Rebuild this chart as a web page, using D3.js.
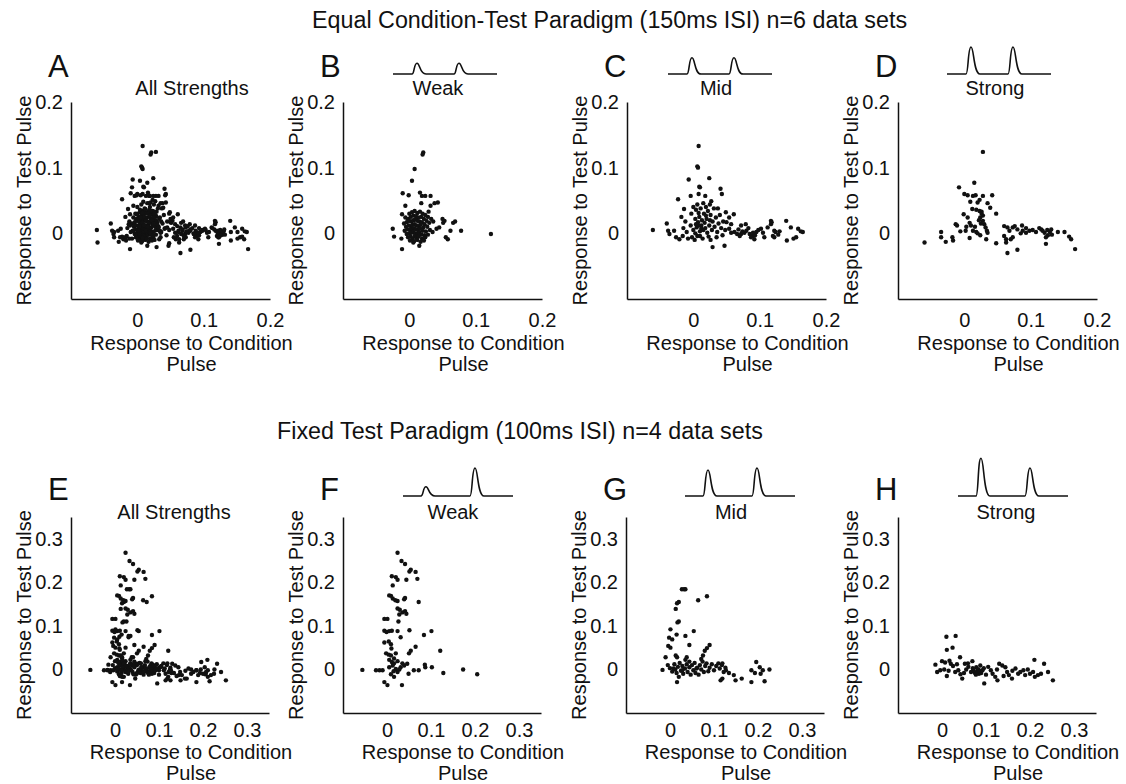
<!DOCTYPE html>
<html>
<head>
<meta charset="utf-8">
<script src="https://cdn.jsdelivr.net/npm/d3@7/dist/d3.min.js"></script>
<style>
    body { margin: 0; background: #fff; }
    svg { display: block; font-family: Arial, "Liberation Sans", sans-serif; }
</style>
</head>
<body>
<svg width="1126" height="784"></svg>
<script>
// Paradigma 1: condicao-teste iguais (150ms ISI) - [resposta condicao, resposta teste]
const weakEq = [
    [0.021,0.123],[0.020,0.120],[0.008,0.098],[0.004,0.080],[-0.010,0.061],[-0.001,0.058],[0.016,0.062],[0.019,0.057],
    [0.024,0.057],[0.032,0.057],[-0.006,0.042],[0.032,0.042],[0.038,0.046],[0.043,0.047],[0.018,0.046],[0.029,0.033],
    [-0.011,0.029],[0.050,0.022],[0.053,0.019],[0.051,0.016],[0.066,0.016],[0.069,0.018],[0.062,0.004],[0.078,0.004],
    [0.123,-0.001],[0.055,-0.006],[0.058,-0.009],[0.041,0.007],[0.045,0.009],[-0.025,0.007],[-0.023,-0.005],[-0.011,-0.024],
    [-0.012,-0.008],[0.015,-0.019],[0.006,-0.014],
    [0.000,0.030],[0.004,0.032],[0.008,0.034],[0.012,0.031],[0.016,0.033],[0.020,0.030],[0.024,0.028],[0.028,0.025],
    [0.033,0.022],[0.036,0.018],[-0.006,0.024],[-0.002,0.022],[0.002,0.025],[0.006,0.027],[0.010,0.026],[0.014,0.024],
    [0.018,0.025],[0.022,0.022],[0.026,0.019],[0.030,0.016],[-0.008,0.015],[-0.004,0.017],[0.000,0.019],[0.003,0.018],
    [0.006,0.020],[0.009,0.021],[0.012,0.019],[0.015,0.018],[0.019,0.017],[0.023,0.014],[-0.005,0.010],[-0.001,0.012],
    [0.002,0.011],[0.005,0.013],[0.008,0.014],[0.011,0.012],[0.014,0.011],[0.017,0.013],[0.021,0.009],[0.027,0.010],
    [-0.007,0.004],[-0.003,0.006],[0.001,0.005],[0.004,0.007],[0.007,0.008],[0.010,0.006],[0.013,0.005],[0.016,0.007],
    [0.020,0.004],[0.025,0.003],[0.031,0.005],[0.035,0.002],[-0.004,-0.001],[0.000,0.000],[0.003,0.001],[0.006,0.002],
    [0.009,0.000],[0.012,-0.001],[0.015,0.001],[0.018,-0.002],[0.023,-0.003],[0.028,-0.002],[-0.002,-0.006],[0.002,-0.005],
    [0.005,-0.008],[0.008,-0.004],[0.011,-0.007],[0.014,-0.005],[0.019,-0.008],[0.024,-0.006],[0.001,-0.011],[0.007,-0.012],
    [0.012,-0.010],[0.017,-0.013],[0.022,-0.011]
];

const midEq = [
    [0.008,0.133],[0.006,0.102],[0.007,0.100],[-0.007,0.082],[0.024,0.084],[0.041,0.068],[0.043,0.060],[0.010,0.070],
    [0.009,0.071],[-0.023,0.052],[0.008,0.060],[0.018,0.057],[-0.004,0.057],[-0.014,0.037],[0.027,0.049],[0.025,0.044],
    [0.037,0.038],[0.049,0.032],[0.061,0.029],[0.054,0.024],[0.050,0.017],[0.057,0.014],[0.072,0.012],[0.079,0.014],
    [0.117,0.019],[0.118,0.017],[0.117,0.014],[0.140,0.019],[0.147,0.009],[0.158,0.007],[0.162,0.003],[0.165,0.002],
    [0.155,-0.006],[0.151,-0.008],[0.141,-0.011],[0.122,0.004],[0.124,0.002],[0.120,-0.004],[0.122,-0.006],[0.107,-0.006],
    [0.089,-0.004],[0.092,-0.009],[0.102,0.007],[0.095,0.002],[0.098,0.005],[0.062,0.002],[0.066,-0.001],[0.072,-0.001],
    [0.077,0.001],[0.080,0.004],[0.085,-0.001],[0.090,0.001],[0.054,0.007],[0.057,0.001],[0.047,-0.019],[0.029,-0.021],
    [-0.061,0.005],[-0.040,0.015],[-0.038,0.004],[-0.036,-0.001],[-0.029,0.004],[-0.026,-0.006],[-0.021,-0.009],
    [0.068,0.006],[0.074,0.003],[0.083,0.008],[0.087,-0.006],[0.070,-0.004],[0.093,-0.003],[0.130,0.003],[0.128,-0.002],
    [0.112,0.009],[0.105,0.001],
    [-0.018,0.025],[-0.012,0.018],[-0.015,0.008],[-0.010,0.002],[-0.016,-0.004],[-0.008,-0.008],[-0.003,0.030],[0.000,0.040],
    [0.004,0.036],[0.003,0.022],[-0.004,0.012],[0.000,0.005],[-0.002,-0.006],[0.002,-0.010],[0.006,0.044],[0.008,0.031],
    [0.007,0.017],[0.005,0.009],[0.006,-0.004],[0.009,0.025],[0.011,0.038],[0.012,0.012],[0.010,0.003],[0.013,0.020],
    [0.014,-0.008],[0.016,0.030],[0.015,0.046],[0.018,0.008],[0.017,0.016],[0.019,0.040],[0.020,0.022],[0.021,0.001],
    [0.022,0.034],[0.024,0.012],[0.023,-0.005],[0.026,0.028],[0.028,0.005],[0.029,0.018],[0.031,0.038],[0.032,0.010],
    [0.034,0.024],[0.036,0.002],[0.038,0.015],[0.040,0.028],[0.042,0.008],[0.044,-0.003],[0.012,0.007],[0.008,0.012],
    [0.015,0.005],[0.004,0.014],[0.019,0.027],[0.025,0.020],[0.003,0.000],[0.010,-0.004],[0.026,-0.010],[0.035,-0.006],
    [0.045,0.018],[0.048,0.005]
];

const strongEq = [
    [0.028,0.124],[0.015,0.077],[-0.008,0.070],[0.000,0.060],[0.005,0.058],[0.013,0.057],[0.028,0.057],[0.042,0.058],
    [0.009,0.048],[0.023,0.051],[0.020,0.047],[0.039,0.039],[0.012,0.037],[0.018,0.036],[0.023,0.034],[0.026,0.033],
    [0.028,0.027],[0.024,0.024],[0.028,0.019],[0.030,0.014],[0.032,0.009],[0.034,0.004],[0.035,0.001],[0.026,0.030],
    [0.022,0.020],[0.025,0.015],[0.048,0.030],[-0.001,0.029],[0.005,0.024],[-0.013,0.014],[-0.011,0.012],[0.008,0.016],
    [0.010,0.012],[0.013,0.004],[0.018,0.002],[0.020,0.000],[0.024,-0.003],[-0.006,0.003],[0.002,0.004],[-0.035,0.002],
    [-0.035,-0.006],[-0.028,-0.013],[-0.018,-0.006],[-0.017,-0.011],[-0.060,-0.014],[0.008,-0.007],[0.033,-0.009],[0.048,-0.015],
    [0.060,0.011],[0.065,0.009],[0.068,0.004],[0.060,-0.004],[0.063,-0.009],[0.070,-0.009],[0.073,-0.006],[0.063,-0.014],
    [0.065,-0.030],[0.080,-0.025],[0.073,0.009],[0.080,0.006],[0.087,0.012],[0.088,0.004],[0.093,0.001],[0.098,0.004],
    [0.093,0.008],[0.116,0.006],[0.118,0.004],[0.121,0.001],[0.125,0.005],[0.129,0.002],[0.131,0.006],[0.126,-0.003],
    [0.123,-0.006],[0.123,-0.016],[0.141,0.002],[0.151,0.002],[0.158,-0.005],[0.161,-0.009],[0.167,-0.024],[0.108,0.002],
    [0.103,0.005],[0.076,0.011],[0.085,0.000],[0.113,0.008],[0.132,-0.002],[0.016,0.010],[0.003,0.010],[0.017,0.058],
    [0.035,0.046]
];

// Paradigma 2: teste fixo (100ms ISI)
const weakFix = [
    [0.024,0.268],[0.033,0.249],[0.041,0.242],[0.054,0.229],[0.051,0.225],[0.065,0.224],[0.011,0.214],[0.020,0.212],
    [0.024,0.206],[0.044,0.206],[0.069,0.208],[0.013,0.193],[0.005,0.170],[0.009,0.169],[0.013,0.163],[0.019,0.159],
    [0.024,0.157],[0.041,0.164],[0.039,0.161],[0.072,0.155],[0.024,0.140],[0.029,0.137],[0.035,0.131],[0.041,0.134],
    [0.028,0.126],[0.044,0.128],[-0.006,0.116],[0.001,0.116],[0.026,0.110],[-0.006,0.089],[-0.001,0.086],[0.005,0.088],
    [0.011,0.089],[0.024,0.088],[0.051,0.090],[0.101,0.088],[0.084,0.079],[0.031,0.074],[-0.006,0.062],[0.004,0.064],
    [0.009,0.058],[0.065,0.052],[0.121,0.043],[-0.002,0.037],[0.004,0.034],[0.009,0.032],[0.020,0.037],[0.050,0.037],
    [0.054,0.043],[0.005,0.022],[0.011,0.017],[0.016,0.014],[0.024,0.019],[0.035,0.014],[0.046,0.013],[-0.056,-0.001],
    [-0.025,-0.002],[-0.017,-0.002],[-0.010,-0.002],[0.005,0.005],[0.013,0.009],[0.020,0.001],[0.031,0.005],[0.039,0.009],
    [0.061,-0.002],[0.072,-0.002],[0.086,0.011],[0.087,0.005],[0.102,0.005],[0.128,-0.008],[0.173,0.000],[0.205,-0.011],
    [-0.006,-0.029],[0.001,-0.036],[0.034,-0.036],[0.009,-0.011],[0.016,-0.017],[0.024,-0.006],[0.049,-0.010],[0.010,0.048],
    [0.016,0.025],[0.028,0.000],[0.015,-0.004]
];

const midFix = [
    [0.027,0.184],[0.032,0.184],[0.035,0.184],[0.020,0.155],[0.016,0.152],[0.064,0.159],[0.084,0.168],[0.013,0.139],
    [0.020,0.110],[0.017,0.108],[0.001,0.092],[0.054,0.088],[-0.002,0.073],[0.005,0.069],[0.015,0.080],[0.035,0.077],
    [-0.004,0.054],[0.001,0.050],[0.044,0.056],[0.090,0.056],[0.084,0.049],[0.079,0.043],[-0.010,0.028],[0.013,0.032],
    [0.016,0.028],[0.038,0.028],[0.035,0.022],[0.075,0.032],[0.071,0.024],[-0.017,-0.001],
    [-0.005,0.010],[0.000,0.003],[0.005,-0.005],[0.010,0.012],[0.012,0.000],[0.015,-0.008],[0.018,0.006],[0.022,0.015],
    [0.025,-0.003],[0.028,0.008],[0.030,-0.010],[0.034,0.002],[0.038,0.012],[0.040,-0.006],[0.044,0.005],[0.047,-0.012],
    [0.050,0.010],[0.053,-0.002],[0.056,0.015],[0.058,-0.008],[0.062,0.004],[0.065,-0.012],[0.068,0.010],[0.071,0.000],
    [0.074,0.018],[0.077,-0.006],[0.080,0.008],[0.083,0.014],[0.087,-0.004],[0.090,0.004],[0.095,0.012],[0.100,-0.002],
    [0.105,0.008],[0.110,0.014],[0.113,0.002],[0.118,0.010],[0.122,-0.006],[0.126,0.004],[0.044,0.018],[0.060,0.002],
    [0.028,-0.002],[0.008,0.002],
    [0.119,-0.021],[0.115,-0.025],[0.149,-0.025],[0.163,-0.021],[0.016,-0.029],[0.020,-0.017],[0.119,0.014],[0.127,-0.002],
    [0.134,-0.008],[0.145,-0.013],[0.185,-0.002],[0.196,0.017],[0.204,0.005],[0.211,-0.002],[0.206,-0.010],[0.226,0.000],
    [0.185,-0.029],[0.215,-0.027],[0.193,-0.008]
];

const strongFix = [
    [0.010,0.075],[0.031,0.077],[0.024,0.050],[0.011,0.045],[0.041,0.028],[0.000,0.019],[0.007,0.016],[0.017,0.020],
    [0.020,0.013],[-0.015,0.011],[-0.011,-0.006],[-0.004,-0.002],[0.011,-0.015],[0.030,-0.006],[0.037,-0.002],[0.042,-0.011],
    [0.046,-0.021],[0.052,0.013],[0.059,0.014],[0.069,0.019],[0.078,0.005],[0.081,-0.002],[0.084,-0.010],[0.087,0.009],
    [0.072,-0.003],[0.075,-0.008],[0.077,-0.012],[0.080,-0.006],[0.083,0.000],[0.086,-0.004],[0.089,-0.008],[0.092,-0.002],
    [0.095,0.003],[0.070,0.003],[0.066,-0.006],[0.096,-0.032],[0.111,-0.002],[0.115,-0.010],[0.121,-0.017],[0.126,-0.025],
    [0.130,0.013],[0.137,0.009],[0.144,0.005],[0.148,-0.006],[0.152,-0.013],[0.159,-0.021],[0.167,0.002],[0.173,-0.010],
    [0.178,-0.006],[0.185,-0.002],[0.189,-0.013],[0.200,-0.010],[0.207,-0.006],[0.211,-0.017],[0.218,-0.013],[0.225,-0.010],
    [0.210,0.022],[0.232,0.013],[0.241,-0.006],[0.252,-0.025],[0.105,0.006],[0.100,-0.012],[0.125,0.000],[0.140,-0.015],
    [0.160,-0.003],[0.195,0.000],[0.055,0.000],[0.050,-0.008],[0.060,0.006],[0.025,0.008],[0.005,0.000],[0.015,-0.003],
    [0.034,0.012]
];

// "All Strengths" = junção das três intensidades
const allEq = [...weakEq, ...midEq, ...strongEq];
const allFix = [...weakFix, ...midFix, ...strongFix];

const eqTicks = [0, 0.1, 0.2];
const fixTicks = [0, 0.1, 0.2, 0.3];
const eqDomain = [-0.1, 0.2];
const fixDomain = [-0.1, 0.35];

// amplitude relativa dos pulsos [condição, teste]
const eqPulses = { weak: [0.4, 0.4], mid: [0.6, 0.6], strong: [1, 1] };
const fixPulses = { weak: [0.33, 1], mid: [0.93, 1], strong: [1.35, 1] };

const svg = d3.select("svg");

const linhas = [
    {
        titulo: "Equal Condition-Test Paradigm (150ms ISI) n=6 data sets",
        tituloX: 312, tituloY: 28,
        topo: 102, base: 299, largura: 199,
        dominio: eqDomain, ticks: eqTicks,
        tickPad: 14, labelDy: [51, 72], letraY: 77, subY: 95,
        pulsoY: 74, pulsoW: 104, pulsoOff: [19, 61], pulsoH: 27
    },
    {
        titulo: "Fixed Test Paradigm (100ms ISI) n=4 data sets",
        tituloX: 277, tituloY: 439,
        topo: 517, base: 713, largura: 198,
        dominio: fixDomain, ticks: fixTicks,
        tickPad: 10, labelDy: [46, 67], letraY: 500, subY: 519,
        pulsoY: 496, pulsoW: 110, pulsoOff: [18, 67], pulsoH: 28
    }
];

const paineis = [
    { linha: 0, letra: "A", esq: 71,  sub: "All Strengths", subX: 192, pontos: allEq },
    { linha: 0, letra: "B", esq: 343, sub: "Weak",   subX: 438, pontos: weakEq,   pulso: eqPulses.weak,   pulsoX: 445 },
    { linha: 0, letra: "C", esq: 627, sub: "Mid",    subX: 716, pontos: midEq,    pulso: eqPulses.mid,    pulsoX: 720 },
    { linha: 0, letra: "D", esq: 898, sub: "Strong", subX: 995, pontos: strongEq, pulso: eqPulses.strong, pulsoX: 999 },
    { linha: 1, letra: "E", esq: 71,  sub: "All Strengths", subX: 174, pontos: allFix },
    { linha: 1, letra: "F", esq: 343, sub: "Weak",   subX: 453, pontos: weakFix,   pulso: fixPulses.weak,   pulsoX: 458 },
    { linha: 1, letra: "G", esq: 626, sub: "Mid",    subX: 731, pontos: midFix,    pulso: fixPulses.mid,    pulsoX: 740 },
    { linha: 1, letra: "H", esq: 898, sub: "Strong", subX: 1006, pontos: strongFix, pulso: fixPulses.strong, pulsoX: 1013 }
];

linhas.forEach(l => {
    svg.append("text")
        .attr("x", l.tituloX)
        .attr("y", l.tituloY)
        .attr("font-size", 23.3)
        .attr("fill", "#111")
        .text(l.titulo);
});

// pulso arredondado: subida rápida, topo arredondado, descida mais lenta
function bump(p, s, b, h) {
    p.lineTo(s, b);
    p.bezierCurveTo(s + 2.5, b, s + 1.8, b - h, s + 5, b - h);
    p.bezierCurveTo(s + 8, b - h, s + 7.5, b, s + 14, b);
}

paineis.forEach(pn => {
    const l = linhas[pn.linha];
    const g = svg.append("g");

    const x = d3.scaleLinear().domain(l.dominio).range([pn.esq, pn.esq + l.largura]);
    const y = d3.scaleLinear().domain(l.dominio).range([l.base, l.topo]);

    const eixoX = g.append("g")
        .attr("transform", `translate(0,${l.base})`)
        .call(d3.axisBottom(x).tickValues(l.ticks).tickSize(0).tickPadding(l.tickPad).tickFormat(d => String(d)));
    const eixoY = g.append("g")
        .attr("transform", `translate(${pn.esq},0)`)
        .call(d3.axisLeft(y).tickValues(l.ticks).tickSize(0).tickPadding(8).tickFormat(d => String(d)));

    [eixoX, eixoY].forEach(e => {
        e.select(".domain").attr("stroke", "#111").attr("stroke-width", 1.5);
        e.selectAll("text")
            .attr("font-size", 20)
            .attr("font-family", "Arial, 'Liberation Sans', sans-serif")
            .attr("fill", "#111");
    });

    g.selectAll("circle")
        .data(pn.pontos)
        .enter()
        .append("circle")
        .attr("cx", d => x(d[0]))
        .attr("cy", d => y(d[1]))
        .attr("r", 2.2)
        .attr("fill", "#111");

    const cx = pn.esq + l.largura / 2 + 21;
    g.append("text")
        .attr("x", cx).attr("y", l.base + l.labelDy[0])
        .attr("text-anchor", "middle").attr("font-size", 20).attr("fill", "#111")
        .text("Response to Condition");
    g.append("text")
        .attr("x", cx).attr("y", l.base + l.labelDy[1])
        .attr("text-anchor", "middle").attr("font-size", 20).attr("fill", "#111")
        .text("Pulse");

    g.append("text")
        .attr("transform", `translate(${pn.esq - 40},${(l.topo + l.base) / 2}) rotate(-90)`)
        .attr("text-anchor", "middle").attr("font-size", 20).attr("fill", "#111")
        .text("Response to Test Pulse");

    g.append("text")
        .attr("x", pn.esq - 23).attr("y", l.letraY)
        .attr("font-size", 31).attr("fill", "#111")
        .text(pn.letra);

    g.append("text")
        .attr("x", pn.subX).attr("y", l.subY)
        .attr("text-anchor", "middle").attr("font-size", 20).attr("fill", "#111")
        .text(pn.sub);

    if (pn.pulso) {
        const altura = d3.scaleLinear().domain([0, 1]).range([0, l.pulsoH]);
        const x0 = pn.pulsoX - l.pulsoW / 2;
        const b = l.pulsoY;
        const p = d3.path();
        p.moveTo(x0, b);
        bump(p, x0 + l.pulsoOff[0], b, altura(pn.pulso[0]));
        bump(p, x0 + l.pulsoOff[1], b, altura(pn.pulso[1]));
        p.lineTo(x0 + l.pulsoW, b);
        g.append("path")
            .attr("d", p.toString())
            .attr("fill", "none")
            .attr("stroke", "#111")
            .attr("stroke-width", 1.6);
    }
});
</script>
</body>
</html>
